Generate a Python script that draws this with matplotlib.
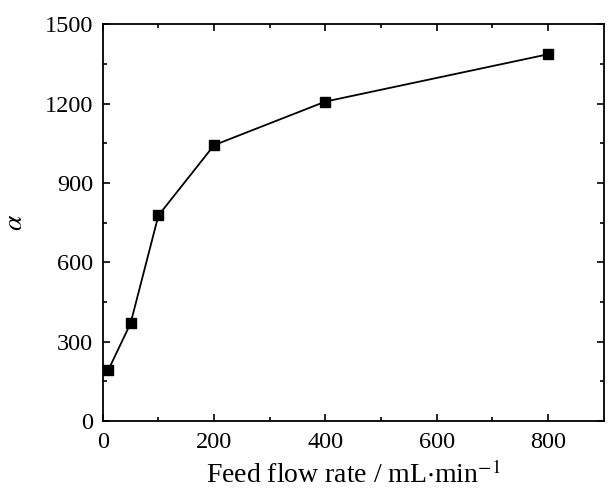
import matplotlib
matplotlib.use('Agg')
import matplotlib.pyplot as plt

# feed flow rate (mL/min) vs separation factor alpha
flow_rate = [10, 50, 100, 200, 400, 800]
alpha = [192, 369, 777, 1043, 1208, 1387]

plt.rcParams['font.family'] = ['Liberation Serif', 'DejaVu Serif']
plt.rcParams['mathtext.fontset'] = 'stix'

fig = plt.figure(figsize=(6.08, 4.98), dpi=100)
ax = fig.add_axes([0.169, 0.155, 0.824, 0.796])

ax.plot(flow_rate, alpha, color='black', lw=1.3, marker='s', ms=6.5,
        mfc='black', mec='black')

ax.set_xlim(0, 900)
ax.set_ylim(0, 1500)
ax.set_xticks([0, 200, 400, 600, 800])
ax.set_xticks(range(100, 900, 200), minor=True)
ax.set_yticks(range(0, 1501, 300))
ax.set_yticks(range(150, 1500, 300), minor=True)

ax.tick_params(which='both', direction='in', top=True, right=True,
               labelsize=17.5, width=1.2)
ax.tick_params(which='major', length=5)
ax.tick_params(which='minor', length=3)
ax.tick_params(axis='x', pad=8)
ax.tick_params(axis='y', pad=7)
for s in ax.spines.values():
    s.set_linewidth(1.3)

ax.set_xlabel('Feed flow rate / mL$\\cdot$min$^{-1}$', fontsize=20, labelpad=6)
ax.set_ylabel('$\\alpha$', fontsize=20, labelpad=12)

fig.savefig('out.png', dpi=100)
